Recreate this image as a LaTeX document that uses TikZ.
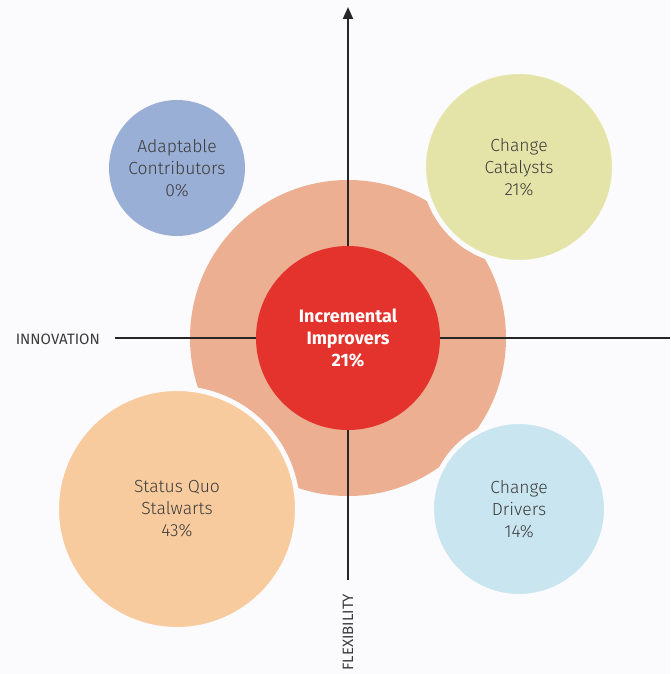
\documentclass[tikz,border=0pt]{standalone}
\usepackage{fontspec}
\setmainfont{Fira Sans}
\newfontfamily\lightfont{Fira Sans Light}
\usetikzlibrary{arrows.meta}
\definecolor{bg}{HTML}{FBFBFD}
\definecolor{txt}{HTML}{3C3C3C}
\definecolor{adapt}{HTML}{9AAFD5}
\definecolor{catal}{HTML}{E5E4A8}
\definecolor{stal}{HTML}{F8CB9E}
\definecolor{drive}{HTML}{C9E5F0}
\definecolor{salmon}{HTML}{ECAF91}
\definecolor{incred}{HTML}{E4322D}
\begin{document}
\begin{tikzpicture}[x=1pt,y=-1pt,
  bubble/.style={circle,inner sep=0pt,outer sep=0pt,align=center,text=txt,
     font=\lightfont\fontsize{17.5}{22}\selectfont},
  cutbubble/.style={bubble,draw=bg,line width=5pt},
  axis/.style={line width=2pt,draw=black!85},
  axlabel/.style={font=\fontsize{15}{17}\selectfont,text=txt,inner sep=0pt}]
\fill[bg] (0,0) rectangle (670,674);
\useasboundingbox (0,0) rectangle (670,674);
% outer ring
\node[circle,fill=salmon,minimum size=316pt,inner sep=0pt] (ring) at (348,338) {};
% quadrant bubbles
\node[cutbubble,fill=catal,minimum size=191pt] (catalysts) at (519,167) {Change\\Catalysts\\21\%};
\node[cutbubble,fill=stal,minimum size=241pt] (stalwarts) at (177,509) {Status Quo\\Stalwarts\\43\%};
\node[cutbubble,fill=drive,minimum size=175pt] (drivers) at (519,509) {Change\\Drivers\\14\%};
\node[bubble,fill=adapt,minimum size=136pt] (adaptable) at (177,168) {Adaptable\\Contributors\\0\%};
% axes
\coordinate (ytop) at (348,7);
\coordinate (ybot) at (348,580);
\coordinate (xleft) at (115,338);
\coordinate (xright) at (670,338);
\draw[axis,-{Triangle[length=12pt,width=10pt]}] (ybot) -- (ytop);
\draw[axis] (xleft) -- (xright);
% centre
\node[bubble,fill=incred,minimum size=184pt,text=white,
  font=\bfseries\fontsize{18}{22}\selectfont] (incremental) at (348,338) {Incremental\\Improvers\\21\%};
% axis labels
\node[axlabel,anchor=east] (innov) at (100,339) {INNOVATION};
\node[axlabel,anchor=west,rotate=90] (flex) at (348,671) {FLEXIBILITY};
\end{tikzpicture}
\end{document}
